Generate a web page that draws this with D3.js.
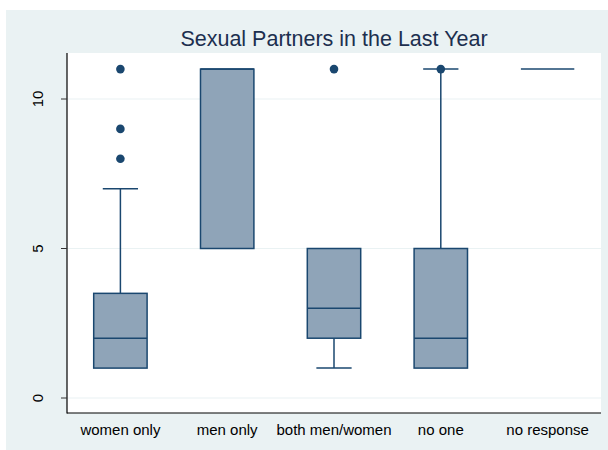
<!DOCTYPE html>
<html>
<head>
<meta charset="utf-8">
<script src="https://cdn.jsdelivr.net/npm/d3@7"></script>
<style>
  html, body { margin: 0; padding: 0; background: #ffffff; }
  svg { display: block; }
</style>
</head>
<body>
<svg id="chart" width="608" height="450"></svg>
<script>
// ---- data ----
const categories = ["women only", "men only", "both men/women", "no one", "no response"];
const q1Values     = [1, 5, 2, 1, 11];
const medianValues = [2, 11, 3, 2, 11];
const q3Values     = [3.5, 11, 5, 5, 11];
const whiskerLow   = [1, 5, 1, 1, 11];
const whiskerHigh  = [7, 11, 5, 11, 11];
const outliers     = [[8, 9, 11], [], [11], [11], []];
const yTicks       = [0, 5, 10];
const titleText    = "Sexual Partners in the Last Year";

// ---- layout ----
const svg = d3.select("#chart");
const W = 608, H = 450;
const plot = { left: 67, right: 601, top: 53, bottom: 413 };
const navy = "#1a476f";
const boxFill = "#8fa4b8";
const outerBg = "#eaf2f3";
const font = "Liberation Sans, Arial, Helvetica, sans-serif";

svg.append("rect").attr("x", 0).attr("y", 0).attr("width", W).attr("height", H).attr("fill", "#ffffff");
svg.append("rect").attr("x", 6).attr("y", 10).attr("width", W - 6).attr("height", H - 10).attr("fill", outerBg);
svg.append("rect").attr("x", plot.left).attr("y", plot.top)
  .attr("width", plot.right - plot.left).attr("height", plot.bottom - plot.top).attr("fill", "#ffffff");

const x = d3.scaleBand().domain(categories).range([plot.left, plot.right]).paddingInner(0).paddingOuter(0);
const y = d3.scaleLinear().domain([0, 10]).range([398, 99]);

// gridlines
svg.append("g").selectAll("line").data(yTicks).join("line")
  .attr("x1", plot.left).attr("x2", plot.right)
  .attr("y1", d => y(d)).attr("y2", d => y(d))
  .attr("stroke", outerBg).attr("stroke-width", 1.2);

// title
svg.append("text")
  .attr("x", (plot.left + plot.right) / 2).attr("y", 46)
  .attr("text-anchor", "middle")
  .attr("font-family", font)
  .attr("font-size", 21.5)
  .attr("fill", "#1c2f4f")
  .text(titleText);

// boxes
const data = categories.map((c, i) => ({
  c, q1: q1Values[i], med: medianValues[i], q3: q3Values[i],
  lo: whiskerLow[i], hi: whiskerHigh[i], out: outliers[i]
}));

const bw = x.bandwidth();
const boxW = bw * 0.5;
const capW = bw * 0.33;

const g = svg.append("g");
data.forEach(d => {
  const cx = x(d.c) + bw / 2;
  if (d.hi > d.q3) {
    g.append("line").attr("x1", cx).attr("x2", cx).attr("y1", y(d.q3)).attr("y2", y(d.hi))
      .attr("stroke", navy).attr("stroke-width", 1.5);
    g.append("line").attr("x1", cx - capW / 2).attr("x2", cx + capW / 2).attr("y1", y(d.hi)).attr("y2", y(d.hi))
      .attr("stroke", navy).attr("stroke-width", 1.5);
  }
  if (d.lo < d.q1) {
    g.append("line").attr("x1", cx).attr("x2", cx).attr("y1", y(d.q1)).attr("y2", y(d.lo))
      .attr("stroke", navy).attr("stroke-width", 1.5);
    g.append("line").attr("x1", cx - capW / 2).attr("x2", cx + capW / 2).attr("y1", y(d.lo)).attr("y2", y(d.lo))
      .attr("stroke", navy).attr("stroke-width", 1.5);
  }
  g.append("rect")
    .attr("x", cx - boxW / 2).attr("y", y(d.q3))
    .attr("width", boxW).attr("height", Math.max(0, y(d.q1) - y(d.q3)))
    .attr("fill", boxFill).attr("stroke", navy).attr("stroke-width", 1.5);
  g.append("line").attr("x1", cx - boxW / 2).attr("x2", cx + boxW / 2)
    .attr("y1", y(d.med)).attr("y2", y(d.med))
    .attr("stroke", navy).attr("stroke-width", 1.5);
  d.out.forEach(v => {
    g.append("circle").attr("cx", cx).attr("cy", y(v)).attr("r", 4.3).attr("fill", navy);
  });
});

// axes lines
svg.append("line").attr("x1", plot.left).attr("x2", plot.left).attr("y1", plot.top).attr("y2", plot.bottom + 0.5)
  .attr("stroke", "#000").attr("stroke-width", 1.2);
svg.append("line").attr("x1", plot.left).attr("x2", plot.right).attr("y1", plot.bottom).attr("y2", plot.bottom)
  .attr("stroke", "#000").attr("stroke-width", 1.2);

// y ticks
const yAxis = svg.append("g");
yTicks.forEach(t => {
  yAxis.append("line").attr("x1", plot.left - 6).attr("x2", plot.left).attr("y1", y(t)).attr("y2", y(t))
    .attr("stroke", "#333").attr("stroke-width", 1);
  yAxis.append("text")
    .attr("transform", `translate(43, ${y(t)}) rotate(-90)`)
    .attr("text-anchor", "middle")
    .attr("font-family", font)
    .attr("font-size", 15)
    .attr("fill", "#000")
    .text(t);
});

// x labels
svg.append("g").selectAll("text").data(categories).join("text")
  .attr("x", d => x(d) + bw / 2).attr("y", 435)
  .attr("text-anchor", "middle")
  .attr("font-family", font)
  .attr("font-size", 15)
  .attr("fill", "#000")
  .text(d => d);
</script>
</body>
</html>
